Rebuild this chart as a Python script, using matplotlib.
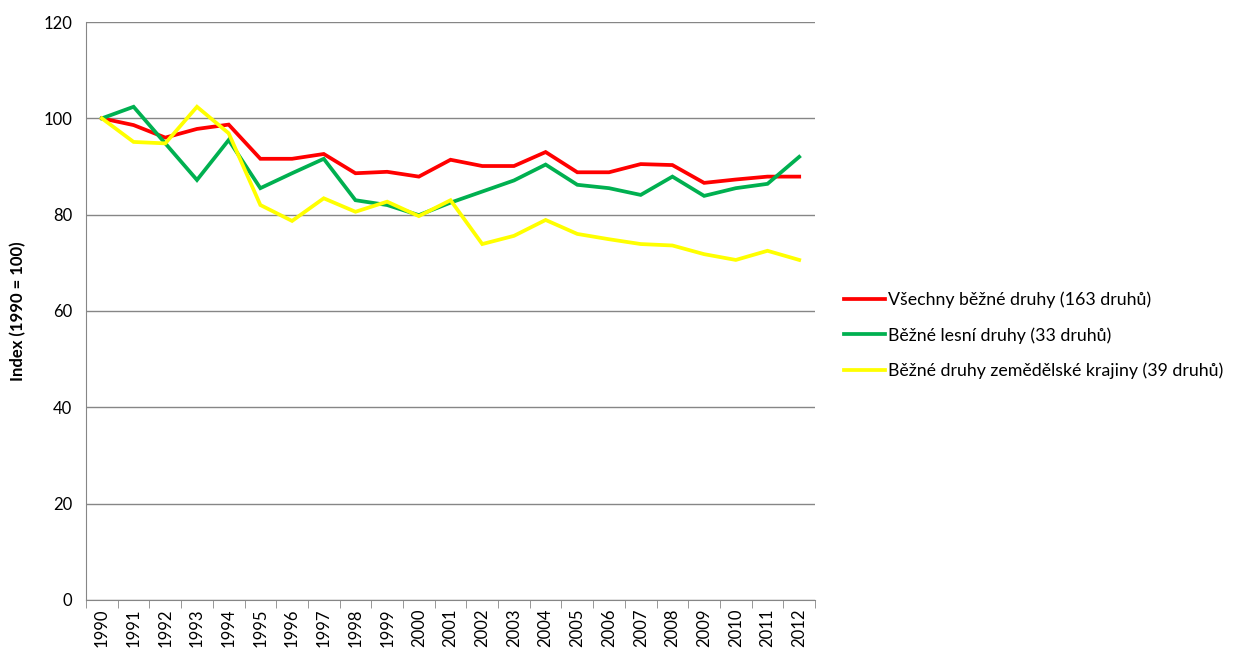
import matplotlib
matplotlib.use("Agg")
import matplotlib.pyplot as plt
import numpy as np

years = [str(y) for y in range(1990, 2013)]
vsechny = [100, 98.6, 96.0, 97.8, 98.7, 91.6, 91.6, 92.6, 88.6, 88.9, 87.9, 91.4,
           90.1, 90.1, 93.0, 88.8, 88.8, 90.5, 90.3, 86.6, 87.3, 87.9, 87.9]
lesni = [100, 102.4, 94.8, 87.2, 95.5, 85.5, 88.6, 91.6, 83.0, 82.0, 79.9, 82.5,
         84.8, 87.1, 90.4, 86.2, 85.5, 84.1, 87.9, 83.9, 85.5, 86.4, 92.0]
zemedelske = [100, 95.1, 94.8, 102.4, 96.9, 82.0, 78.7, 83.4, 80.6, 82.7, 79.7, 83.0,
              73.9, 75.6, 78.9, 76.0, 74.9, 73.9, 73.6, 71.8, 70.6, 72.5, 70.6]
labels = ["Všechny běžné druhy (163 druhů)",
          "Běžné lesní druhy (33 druhů)",
          "Běžné druhy zemědělské krajiny (39 druhů)"]
colors = ["#FF0000", "#00B050", "#FFFF00"]

plt.rcParams['font.family'] = ['Lato', 'DejaVu Sans']

fig = plt.figure(figsize=(12.47, 6.55), dpi=100)
ax = fig.add_axes([0.069, 0.084, 0.5846, 0.8824])

x = np.arange(len(years))
for series, lab, col in zip([vsechny, lesni, zemedelske], labels, colors):
    ax.plot(x, series, color=col, lw=2.7, label=lab, solid_joinstyle='miter')

ax.set_xlim(-0.5, len(years) - 0.5)
ax.set_ylim(0, 120)
ax.set_yticks(np.arange(0, 121, 20))
ax.yaxis.grid(True, color='#868686', lw=1)
ax.set_axisbelow(True)
ax.tick_params(axis='y', length=0, labelsize=12, pad=10)

ax.set_xticks(x)
ax.set_xticklabels(years, rotation=90, fontsize=12)
ax.set_xticks(np.arange(-0.5, len(years), 1), minor=True)
ax.tick_params(axis='x', which='major', length=0, pad=6)
ax.tick_params(axis='x', which='minor', length=6, color='#868686')

for s in ['top', 'right']:
    ax.spines[s].set_visible(False)
for s in ['left', 'bottom']:
    ax.spines[s].set_color('#868686')

ax.set_ylabel("Index (1990 = 100)", fontweight='bold', fontsize=12, labelpad=12)

fig.legend(loc='center left', bbox_to_anchor=(0.664, 0.488), frameon=False,
           fontsize=12.8, handlelength=2.3, handletextpad=0.2, labelspacing=1.05)

fig.savefig("out.png", dpi=100)
